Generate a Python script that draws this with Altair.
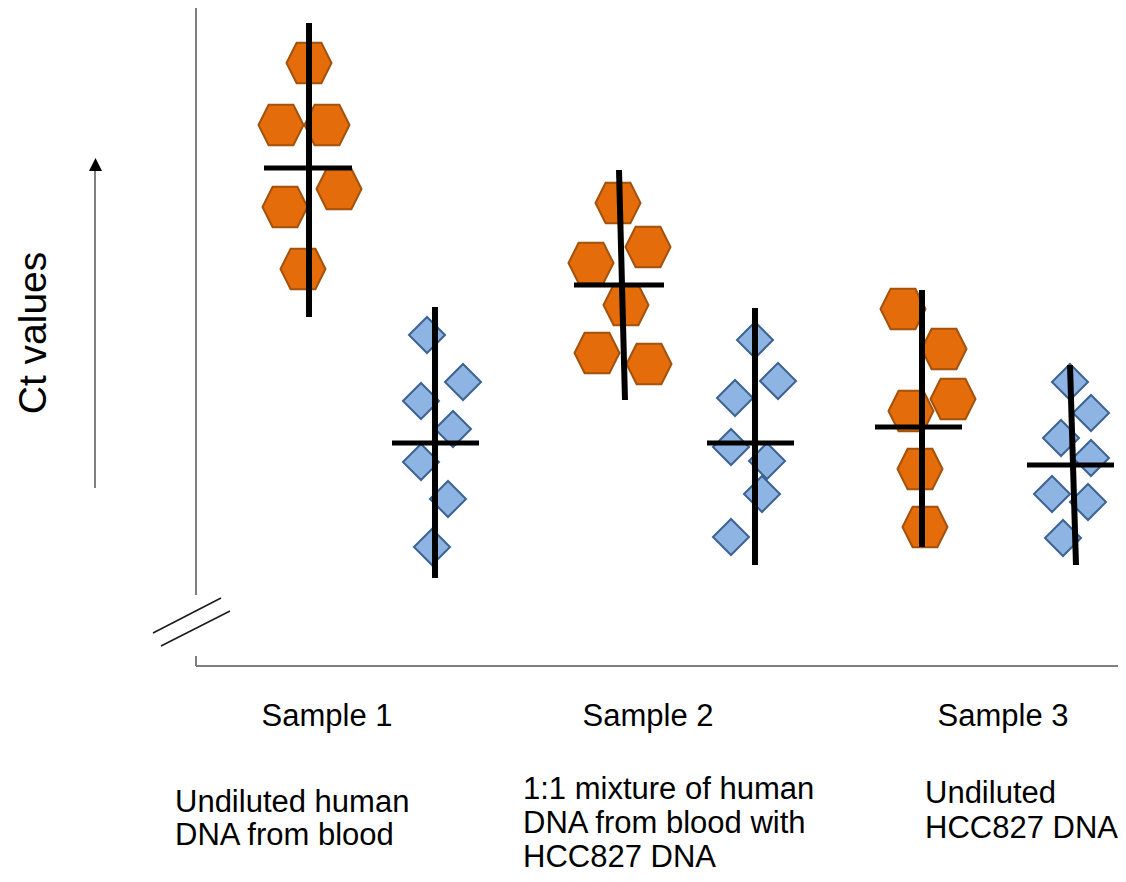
import altair as alt
import pandas as pd

# ---- data (schematic units: pos = horizontal position, ct = Ct value, arbitrary scale) ----
hex_pos = [30.1, 27.3, 31.9, 33.1, 27.7, 29.5,
           61.0, 64.0, 58.3, 61.8, 58.9, 64.1,
           89.5, 93.6, 94.5, 90.3, 91.2, 91.7]
hex_ct = [81.1, 74.9, 74.9, 68.5, 66.7, 60.5,
          67.1, 62.7, 61.1, 56.9, 52.1, 51.0,
          56.5, 52.5, 47.5, 46.3, 40.5, 34.7]

dia_pos = [41.9, 45.5, 41.3, 44.5, 41.3, 44.0, 42.4,
           74.7, 77.0, 72.7, 72.3, 75.9, 75.4, 72.3,
           106.2, 108.3, 105.3, 108.3, 104.4, 108.0, 105.5]
dia_ct = [53.9, 49.2, 47.3, 44.5, 41.2, 37.5, 32.7,
          53.4, 49.3, 47.6, 42.7, 41.3, 38.0, 33.7,
          49.2, 46.1, 43.6, 41.6, 38.0, 37.2, 33.6]

# vertical (range) lines
vr_x1 = [30.1, 42.7, 61.1, 74.7, 91.4, 106.2]
vr_y1 = [85.1, 56.7, 70.4, 56.6, 58.4, 50.9]
vr_x2 = [30.1, 42.7, 61.7, 74.7, 91.4, 106.8]
vr_y2 = [55.7, 29.6, 47.4, 30.9, 32.7, 30.9]

# horizontal (mean) lines
mn_ct = [70.6, 43.1, 58.9, 43.1, 44.7, 40.9]
mn_x1 = [25.6, 38.4, 56.6, 69.9, 86.7, 101.9]
mn_x2 = [34.4, 47.1, 65.6, 78.6, 95.4, 110.6]

# axis frame, break marks and arrow
ax_x1 = [18.8, 18.8, 18.8, 8.7]
ax_y1 = [86.6, 21.8, 20.8, 38.6]
ax_x2 = [18.8, 18.8, 111.0, 8.7]
ax_y2 = [27.9, 20.8, 20.8, 70.3]

brk_x1 = [14.5, 15.3]
brk_y1 = [24.1, 22.8]
brk_x2 = [21.3, 22.2]
brk_y2 = [27.6, 26.3]

arrow_head_pos = [8.75]
arrow_head_ct = [70.95]

sample_labels = ["Sample 1", "Sample 2", "Sample 3"]
sample_pos = [31.9, 64.0, 99.5]
sample_ct = [14.8, 14.8, 14.8]

desc_lines = ["Undiluted human", "DNA from blood",
              "1:1 mixture of human", "DNA from blood with", "HCC827 DNA",
              "Undiluted", "HCC827 DNA"]
desc_pos = [16.7, 16.7, 51.5, 51.5, 51.5, 91.7, 91.7]
desc_ct = [6.2, 2.9, 7.5, 4.1, 0.75, 7.1, 3.6]

ylabel = ["Ct values"]
ylabel_pos = [3.8]
ylabel_ct = [54.1]

# ---- scales ----
XS = alt.Scale(domain=[0, 111], nice=False, zero=False)
YS = alt.Scale(domain=[0, 86.6], nice=False, zero=False)

def X(f):
    return alt.X(f, type="quantitative", scale=XS, axis=None)

def Y(f):
    return alt.Y(f, type="quantitative", scale=YS, axis=None)

FONT = "Liberation Sans"

hexdf = pd.DataFrame({"pos": hex_pos, "ct": hex_ct})
diadf = pd.DataFrame({"pos": dia_pos, "ct": dia_ct})
vrdf = pd.DataFrame({"x1": vr_x1, "y1": vr_y1, "x2": vr_x2, "y2": vr_y2})
mndf = pd.DataFrame({"x1": mn_x1, "x2": mn_x2, "y": mn_ct})
axdf = pd.DataFrame({"x1": ax_x1, "y1": ax_y1, "x2": ax_x2, "y2": ax_y2})
brkdf = pd.DataFrame({"x1": brk_x1, "y1": brk_y1, "x2": brk_x2, "y2": brk_y2})
headdf = pd.DataFrame({"pos": arrow_head_pos, "ct": arrow_head_ct})
sdf = pd.DataFrame({"pos": sample_pos, "ct": sample_ct, "t": sample_labels})
ddf = pd.DataFrame({"pos": desc_pos, "ct": desc_ct, "t": desc_lines})
ydf = pd.DataFrame({"pos": ylabel_pos, "ct": ylabel_ct, "t": ylabel})

HEX = "M-1,0L-0.55,-0.9L0.55,-0.9L1,0L0.55,0.9L-0.55,0.9Z"
DIA = "M-1,0L0,-1L1,0L0,1Z"
TRI = "M0,-1L1,1L-1,1Z"

axes = alt.Chart(axdf).mark_rule(color="#7f7f7f", strokeWidth=2).encode(
    x=X("x1"), y=Y("y1"), x2="x2", y2="y2")
breaks = alt.Chart(brkdf).mark_rule(color="#1a1a1a", strokeWidth=1.5).encode(
    x=X("x1"), y=Y("y1"), x2="x2", y2="y2")
head = alt.Chart(headdf).mark_point(shape=TRI, filled=True, color="black", size=169, opacity=1).encode(
    x=X("pos"), y=Y("ct"))

hexes = alt.Chart(hexdf).mark_point(shape=HEX, filled=True, fill="#E46C0A", stroke="#A3520C",
                                    strokeWidth=2, size=2025, opacity=1, fillOpacity=1).encode(
    x=X("pos"), y=Y("ct"))
dias = alt.Chart(diadf).mark_point(shape=DIA, filled=True, fill="#8EB4E3", stroke="#3C6391",
                                   strokeWidth=2, size=1296, opacity=1, fillOpacity=1).encode(
    x=X("pos"), y=Y("ct"))

vr = alt.Chart(vrdf).mark_rule(color="black", strokeWidth=6).encode(
    x=X("x1"), y=Y("y1"), x2="x2", y2="y2")
mn = alt.Chart(mndf).mark_rule(color="black", strokeWidth=5).encode(
    x=X("x1"), x2="x2", y=Y("y"))

samples = alt.Chart(sdf).mark_text(font=FONT, fontSize=31, align="center", baseline="alphabetic",
                                   color="black").encode(x=X("pos"), y=Y("ct"), text="t:N")
descs = alt.Chart(ddf).mark_text(font=FONT, fontSize=31, align="left", baseline="alphabetic",
                                 color="black").encode(x=X("pos"), y=Y("ct"), text="t:N")
ylab = alt.Chart(ydf).mark_text(font=FONT, fontSize=39, align="center", baseline="alphabetic",
                                angle=270, color="black").encode(x=X("pos"), y=Y("ct"), text="t:N")

chart = alt.layer(axes, breaks, head, hexes, dias, vr, mn, samples, descs, ylab).properties(
    width=1110, height=866, padding=0,
    autosize=alt.AutoSizeParams(type="none"),
).configure_view(stroke=None)

chart.save("out.html", embed_options={"renderer": "svg", "actions": False})
